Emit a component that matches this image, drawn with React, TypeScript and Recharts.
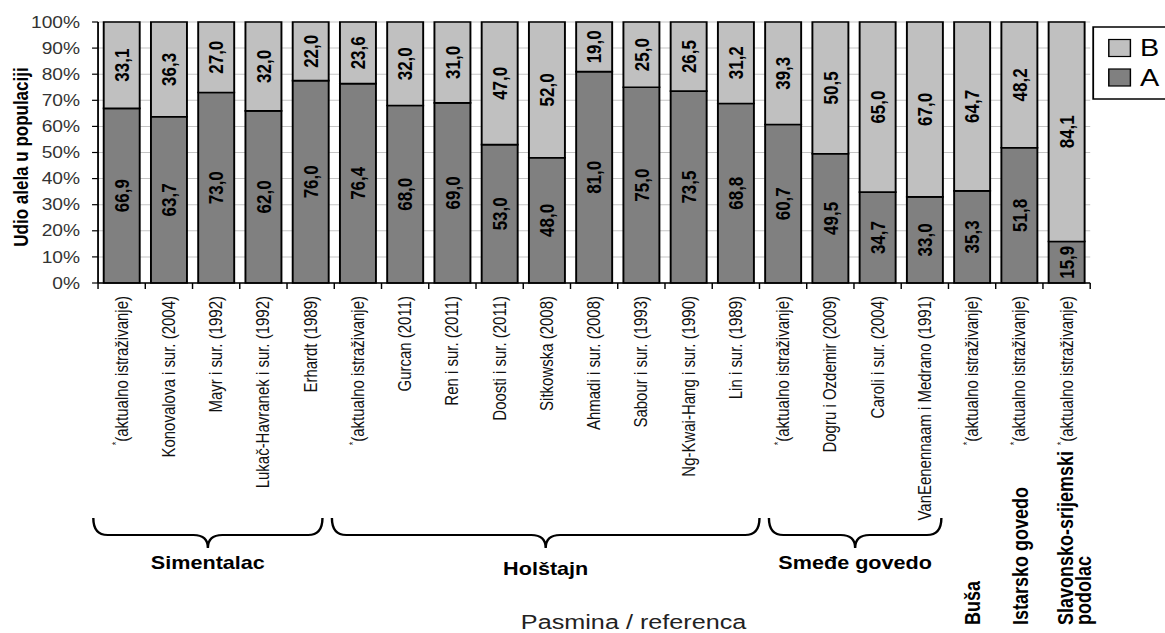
import React from 'react'
import { BarChart, Bar, XAxis, YAxis, CartesianGrid, LabelList } from 'recharts'

// references (one bar each), allele frequencies in %
const references = [
  '*(aktualno istraživanje)',
  'Konovalova i sur. (2004)',
  'Mayr i sur. (1992)',
  'Lukač-Havranek i sur. (1992)',
  'Erhardt (1989)',
  '*(aktualno istraživanje)',
  'Gurcan (2011)',
  'Ren i sur. (2011)',
  'Doosti i sur. (2011)',
  'Sitkowska (2008)',
  'Ahmadi i sur. (2008)',
  'Sabour i sur. (1993)',
  'Ng-Kwai-Hang i sur. (1990)',
  'Lin i sur. (1989)',
  '*(aktualno istraživanje)',
  'Dogru i Ozdemir (2009)',
  'Caroli i sur. (2004)',
  'VanEenennaam i Medrano (1991)',
  '*(aktualno istraživanje)',
  '*(aktualno istraživanje)',
  '*(aktualno istraživanje)',
]
const alleleA = [66.9, 63.7, 73.0, 62.0, 76.0, 76.4, 68.0, 69.0, 53.0, 48.0, 81.0, 75.0, 73.5, 68.8, 60.7, 49.5, 34.7, 33.0, 35.3, 51.8, 15.9]
const alleleB = [33.1, 36.3, 27.0, 32.0, 22.0, 23.6, 32.0, 31.0, 47.0, 52.0, 19.0, 25.0, 26.5, 31.2, 39.3, 50.5, 65.0, 67.0, 64.7, 48.2, 84.1]
const yTicks = [0, 10, 20, 30, 40, 50, 60, 70, 80, 90, 100]

const breedGroups = [
  { name: 'Simentalac', first: 0, last: 4 },
  { name: 'Holštajn', first: 5, last: 13 },
  { name: 'Smeđe govedo', first: 14, last: 17 },
]
const singleBreeds = [
  { lines: ['Buša'], index: 18 },
  { lines: ['Istarsko govedo'], index: 19 },
  { lines: ['Slavonsko-srijemski', 'podolac'], index: 20 },
]

const data = references.map((_, i) => ({ idx: i, a: alleleA[i], b: alleleB[i] }))

// the source picture is stretched horizontally, so the whole chart is drawn narrower and scaled
const STRETCH = 1.2
const W = 971
const H = 633
const MARGIN = { top: 22, right: 62.5, bottom: 0, left: 0 }
const Y_W = 81.7
const X_H = 350
const PLOT_L = MARGIN.left + Y_W
const PLOT_R = W - MARGIN.right
const PLOT_B = H - X_H
const BW = (PLOT_R - PLOT_L) / references.length
const braceTrim = [[-0.1, -0.25], [-0.05, 0], [0.2, -0.15]]

const FONT = '"Liberation Sans", Arial, Helvetica, sans-serif'
const COLOR_A = '#808080'
const COLOR_B = '#c0c0c0'

const fmt = (v: number) => v.toFixed(1).replace('.', ',')

const barValue = (values: number[]) => (props: any) => {
  const x = Number(props.x), y = Number(props.y)
  const w = Number(props.width), h = Number(props.height)
  const cx = x + w / 2
  const cy = y + h / 2
  return (
    <text
      transform={`translate(${cx + 6},${cy}) rotate(-90)`}
      textAnchor="middle"
      fontFamily={FONT} fontSize={17} fontWeight="bold" fill="#000"
    >
      {fmt(values[props.index])}
    </text>
  )
}

function RefTick(props: any) {
  const { x, payload } = props
  const i = Number(payload.value)
  const label = references[i]
  const star = label.startsWith('*')
  const text = star ? label.slice(1) : label
  return (
    <g>
      <line x1={x - BW / 2} x2={x - BW / 2} y1={PLOT_B} y2={PLOT_B + 6} stroke="#000" strokeWidth={1.2} />
      {i === references.length - 1 && (
        <line x1={x + BW / 2} x2={x + BW / 2} y1={PLOT_B} y2={PLOT_B + 6} stroke="#000" strokeWidth={1.2} />
      )}
      <text
        transform={`translate(${x + 5},${PLOT_B + 13}) rotate(-90)`}
        textAnchor="end" fontFamily={FONT} fontSize={15} fill="#111"
      >
        {star && <tspan fontSize={9} dy={-6}>*</tspan>}
        <tspan dy={star ? 6 : 0}>{text}</tspan>
      </text>
    </g>
  )
}

function Brace({ x0, x1 }: { x0: number; x1: number }) {
  const xm = (x0 + x1) / 2
  const r = 12
  const top = 518, mid = 535, tip = 548
  const d = `M${x0},${top} Q${x0},${mid} ${x0 + r},${mid} L${xm - r},${mid} Q${xm},${mid} ${xm},${tip} ` +
    `Q${xm},${mid} ${xm + r},${mid} L${x1 - r},${mid} Q${x1},${mid} ${x1},${top}`
  return <path d={d} fill="none" stroke="#000" strokeWidth={2} />
}

function Overlay() {
  return (
    <svg width={W} height={H} style={{ position: 'absolute', left: 0, top: 0, pointerEvents: 'none' }}>
      {/* y axis title */}
      <text transform="translate(23,157) rotate(-90)" textAnchor="middle"
        fontFamily={FONT} fontSize={17} fontWeight="bold" fill="#000">
        Udio alela u populaciji
      </text>

      {/* breed braces */}
      {breedGroups.map((g, k) => {
        const x0 = PLOT_L + (g.first + braceTrim[k][0]) * BW
        const x1 = PLOT_L + (g.last + 1 + braceTrim[k][1]) * BW
        return (
          <g key={g.name}>
            <Brace x0={x0} x1={x1} />
            <text x={(x0 + x1) / 2} y={k === 1 ? 575 : 569} textAnchor="middle"
              fontFamily={FONT} fontSize={18} fontWeight="bold" fill="#000">
              {g.name}
            </text>
          </g>
        )
      })}

      {/* single-reference breeds, vertical */}
      {singleBreeds.map(s => {
        const cx = PLOT_L + (s.index + 0.5) * BW
        const base = s.lines.length > 1 ? cx + 5 : cx + 7
        return (
          <text key={s.index} transform={`translate(${base},625) rotate(-90)`} textAnchor="start"
            fontFamily={FONT} fontSize={18} fontWeight="bold" fill="#000">
            {s.lines.map((ln, j) => (
              <tspan key={j} x={0} dy={j === 0 ? 0 : 15}>{ln}</tspan>
            ))}
          </text>
        )
      })}

      {/* x axis title */}
      <text x={528} y={629} textAnchor="middle" fontFamily={FONT} fontSize={21} fill="#222">
        Pasmina / referenca
      </text>

      {/* legend */}
      <rect x={911} y={27} width={100} height={72} fill="#fff" stroke="#000" strokeWidth={1.5} />
      <rect x={924} y={39.5} width={18} height={17} fill={COLOR_B} stroke="#000" strokeWidth={1.2} />
      <rect x={924} y={69} width={18} height={17} fill={COLOR_A} stroke="#000" strokeWidth={1.2} />
      <text x={950} y={56.5} fontFamily={FONT} fontSize={24} fill="#000">B</text>
      <text x={950} y={86} fontFamily={FONT} fontSize={24} fill="#000">A</text>
    </svg>
  )
}

export default function App() {
  return (
    <div style={{ position: 'absolute', left: 0, top: 0, width: 1165, height: 633, overflow: 'hidden', background: '#fff' }}>
      <div style={{ position: 'relative', width: W, height: H, transform: `scaleX(${STRETCH})`, transformOrigin: '0 0' }}>
        <BarChart width={W} height={H} data={data} margin={MARGIN}
          stackOffset="expand" barCategoryGap="12%">
          <CartesianGrid vertical={false} stroke="#c4c4c4" strokeWidth={1} />
          <XAxis
            dataKey="idx" type="category" interval={0} height={X_H}
            axisLine={{ stroke: '#000', strokeWidth: 1.5 }} tickLine={false}
            tick={(p: any) => <RefTick {...p} />}
          />
          <YAxis
            width={Y_W} domain={[0, 1]} ticks={yTicks.map(t => t / 100)}
            tickFormatter={(v: number) => `${Math.round(v * 100)}%`}
            tick={{ fill: '#333', fontSize: 16, fontFamily: FONT }}
            axisLine={{ stroke: '#000', strokeWidth: 1.5 }}
            tickLine={{ stroke: '#000', strokeWidth: 1.2 }}
            tickSize={5} tickMargin={10}
          />
          <Bar dataKey="a" stackId="s" fill={COLOR_A} stroke="#000" strokeWidth={1.6} isAnimationActive={false}>
            <LabelList dataKey="a" content={barValue(alleleA)} />
          </Bar>
          <Bar dataKey="b" stackId="s" fill={COLOR_B} stroke="#000" strokeWidth={1.6} isAnimationActive={false}>
            <LabelList dataKey="b" content={barValue(alleleB)} />
          </Bar>
        </BarChart>
        <Overlay />
      </div>
    </div>
  )
}
